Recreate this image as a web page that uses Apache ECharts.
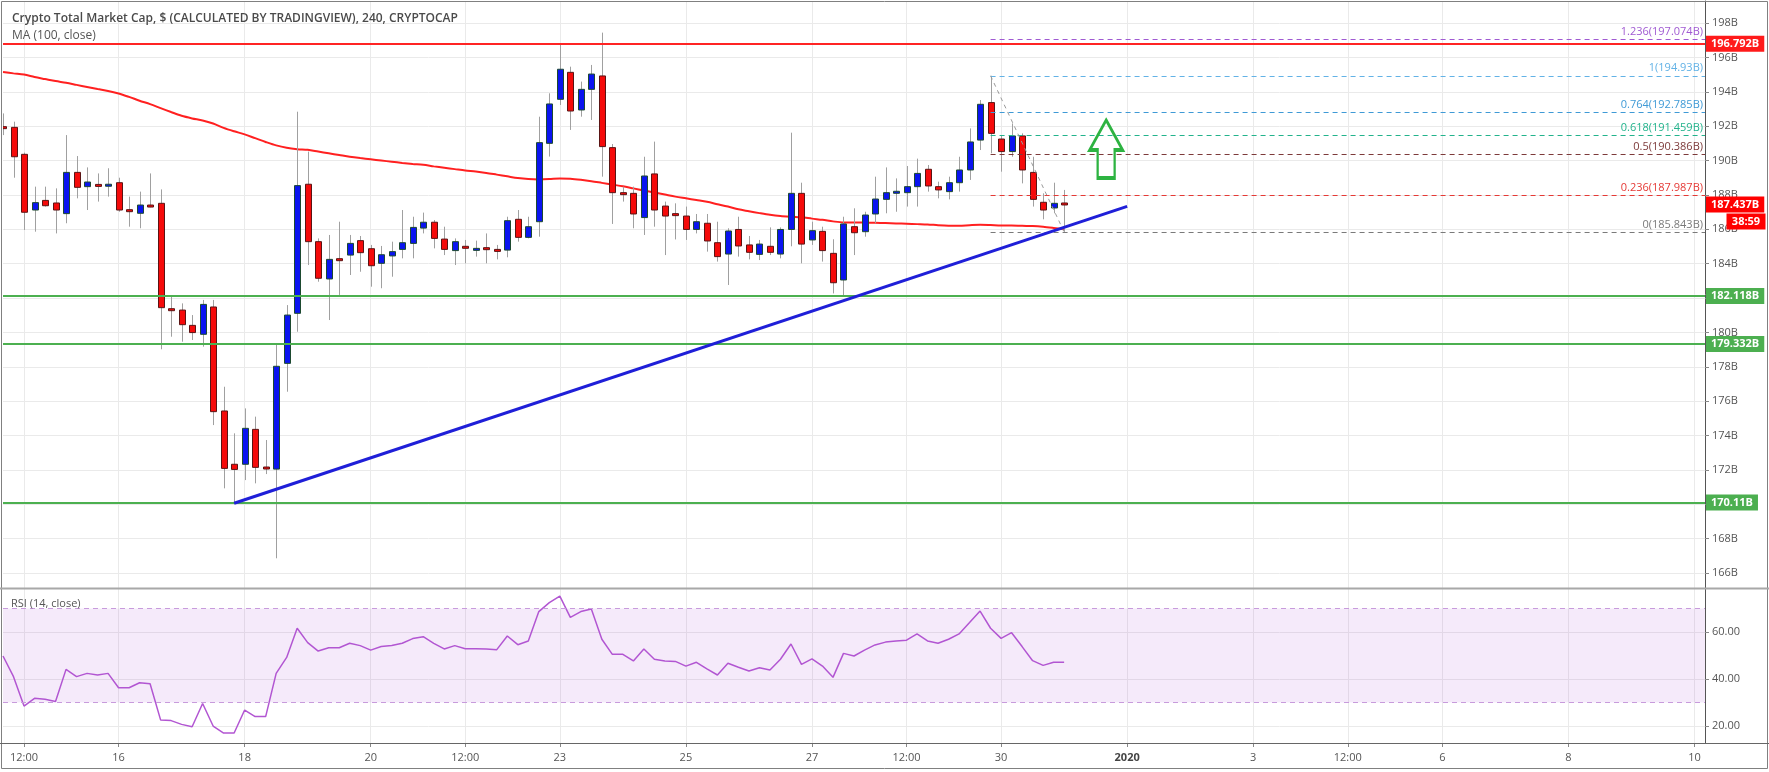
<!DOCTYPE html>
<html><head><meta charset="utf-8">
<script src="https://cdn.jsdelivr.net/npm/echarts@6/dist/echarts.min.js"></script>
<style>html,body{margin:0;padding:0;background:#fff;}#c{width:1769px;height:772px;}</style>
</head><body><div id="c"></div>
<script>
// ---------- data ----------
const slotStart = Date.UTC(2019, 11, 14, 4); // first 4h slot shown
const slotCount = 163;
const tickIndex = [2, 11, 23, 35, 44, 53, 65, 77, 86, 95, 107, 119, 128, 137, 149, 161];
const tickText = ['12:00','16','18','20','12:00','23','25','27','12:00','30','2020','3','12:00','6','8','10'];
const priceTicks = [166,168,170,172,174,176,178,180,182,184,186,188,190,192,194,196,198];
const rsiTicks = [20,40,60];

const opens = [191.97,191.93,190.36,187.12,187.68,187.53,186.91,189.31,188.48,188.61,
188.58,188.71,187.14,186.93,187.41,187.51,181.38,181.30,180.41,179.89,
181.48,175.43,172.33,172.33,174.36,172.17,172.05,178.20,181.11,188.62,
185.28,183.11,184.29,184.50,185.34,184.87,184.02,184.45,184.83,185.18,
186.07,186.41,185.43,184.76,185.01,184.85,184.93,184.83,184.79,186.58,
185.53,186.44,191.00,193.56,195.13,192.94,194.14,194.92,190.75,188.13,
188.09,186.68,189.22,187.35,186.91,186.77,185.99,186.35,185.22,184.56,
185.99,185.09,184.54,185.01,184.56,185.99,188.09,185.38,185.88,184.60,
183.05,186.15,185.86,186.89,187.74,188.17,188.13,188.48,189.49,188.48,
188.19,188.71,189.45,191.19,193.37,191.25,190.52,191.43,189.31,187.57,
187.24,187.53];
const closes = [191.95,190.22,186.99,187.55,187.37,187.12,189.31,188.44,188.75,188.54,
188.62,187.12,187.06,187.41,187.32,181.44,181.30,180.45,179.99,181.63,
175.39,172.09,172.03,174.42,172.15,172.13,178.03,181.01,188.54,185.28,
183.15,184.25,184.21,185.18,184.64,183.88,184.52,184.70,185.22,186.11,
186.41,185.47,184.83,185.28,184.93,184.89,184.85,184.76,186.50,185.53,
186.15,191.04,193.29,195.31,192.88,194.14,195.03,190.81,188.13,188.05,
186.89,189.10,187.12,186.77,186.83,185.99,186.44,185.32,184.41,185.90,
185.03,184.66,185.14,184.66,185.99,188.09,185.14,185.92,184.76,182.89,
186.31,185.80,186.83,187.76,188.13,188.21,188.48,189.25,188.52,188.29,
188.71,189.45,191.08,193.27,191.58,190.52,191.43,189.45,187.74,187.12,
187.51,187.44];
const highs = [192.74,192.26,190.46,188.48,188.48,188.38,191.48,190.26,189.60,189.25,
189.55,189.00,187.90,188.19,189.25,188.32,182.08,181.69,181.01,181.89,
181.89,176.84,174.13,175.58,175.10,173.74,179.37,181.59,192.84,190.52,
185.47,185.67,186.44,185.67,185.61,185.09,185.03,185.28,187.12,186.73,
186.97,186.54,186.15,185.47,185.38,185.34,185.76,185.09,186.73,187.12,
186.73,192.55,193.91,196.82,195.46,194.59,195.56,197.44,190.96,188.48,
188.48,190.22,191.10,187.61,187.51,187.32,186.89,186.89,186.44,186.06,
186.73,185.61,185.38,186.11,186.11,191.62,188.71,186.44,186.15,185.42,
186.73,187.22,187.02,189.06,189.60,188.96,189.68,190.11,189.74,188.77,
189.06,190.22,191.87,193.52,194.93,191.48,192.16,191.58,190.22,188.09,
188.71,188.29];
const lows = [191.48,189.00,185.96,185.86,187.32,185.76,186.35,187.80,187.12,187.61,
187.90,187.02,186.15,186.06,187.28,179.02,179.75,179.46,179.56,179.17,
174.61,170.93,170.06,171.41,171.22,171.76,166.86,176.55,180.04,183.92,
182.95,180.72,182.18,183.34,183.53,182.66,182.57,183.24,184.31,184.31,
185.76,184.89,184.50,183.92,184.02,184.41,184.02,184.25,184.37,185.28,
185.47,185.57,190.23,193.23,191.78,192.55,192.36,189.06,186.31,187.61,
186.06,185.67,186.15,184.50,185.41,185.38,185.76,184.70,184.12,182.76,
184.41,184.25,184.21,184.50,184.31,185.01,184.02,185.09,184.12,182.27,
182.08,184.50,185.57,186.35,186.93,187.02,187.32,187.32,188.19,187.80,
187.74,188.19,188.87,190.61,190.42,189.35,190.22,188.67,187.32,186.58,
186.93,185.85];
const ma100 = [195.15,195.07,195.00,194.86,194.74,194.62,194.52,194.40,194.28,194.16,
194.05,193.90,193.70,193.48,193.28,193.05,192.82,192.60,192.45,192.33,
192.15,191.90,191.70,191.52,191.30,191.08,190.88,190.74,190.66,190.62,
190.52,190.42,190.32,190.22,190.14,190.07,190.00,189.93,189.86,189.80,
189.75,189.66,189.58,189.50,189.42,189.36,189.28,189.18,189.08,188.98,
188.92,188.90,188.92,188.96,188.94,188.88,188.80,188.70,188.60,188.50,
188.38,188.26,188.14,188.02,187.90,187.80,187.70,187.60,187.46,187.32,
187.16,187.05,186.94,186.84,186.77,186.73,186.70,186.62,186.55,186.46,
186.40,186.40,186.39,186.38,186.36,186.34,186.32,186.30,186.28,186.24,
186.21,186.20,186.24,186.27,186.25,186.22,186.22,186.20,186.19,186.15,
186.08,186.00];
const rsi14 = [49.8,41.0,28.5,31.8,31.4,30.4,44.1,41.0,42.4,41.7,
42.4,36.3,36.3,38.4,38.0,22.6,22.3,20.7,19.7,29.6,
20.0,17.0,17.0,26.8,24.0,24.0,42.4,49.2,61.6,55.5,
51.9,53.3,53.3,55.2,54.2,52.3,53.8,54.3,55.2,57.2,
58.0,55.2,52.8,54.2,52.9,52.9,52.8,52.5,58.3,54.6,
56.2,68.7,72.5,75.3,66.2,68.7,69.8,56.9,50.5,50.5,
47.7,52.8,48.4,47.7,47.5,45.5,47.1,44.3,41.7,46.7,
45.0,43.4,44.8,43.8,48.4,54.9,46.2,48.6,45.5,40.7,
50.9,49.8,52.3,54.5,55.7,56.2,56.5,59.2,56.2,55.2,
56.9,59.2,64.0,68.9,61.6,57.3,59.7,53.8,47.8,45.8,
47.1,47.1];

// horizontal levels
const resistanceLevel = 196.792;
const supportLevels = [182.118, 179.332, 170.11];
const supportText = ['182.118B','179.332B','170.11B'];
// fibonacci levels
const fibRatio = ['1.236','1','0.764','0.618','0.5','0.236','0'];
const fibValue = [197.074,194.93,192.785,191.459,190.386,187.987,185.843];
const fibText = ['197.074B','194.93B','192.785B','191.459B','190.386B','187.987B','185.843B'];
const fibColor = ['#a05ad2','#62b2e6','#3f9ad6','#22b38c','#7d3a3a','#e53935','#7a7a7a'];
const fibStartIdx = 94, fibEndIdx = 101, fibLow = 185.843, fibHigh = 194.93;
// trend line
const trendFrom = [22, 170.06], trendTo = [107, 187.33];
const arrowAt = [105, 190.67];
const lastPrice = 187.437, lastPriceText = '187.437B', countdownText = '38:59';

// ---------- build ----------
const categories = [];
for (let k = 0; k < slotCount; k++) {
  categories.push(new Date(slotStart + k * 4 * 3600e3).toISOString().slice(0, 16));
}
const candleData = opens.map((o, i) => [i, o, closes[i], lows[i], highs[i]]);
const FONT = '"Open Sans", "Noto Sans", sans-serif';
const isTick = (i) => tickIndex.indexOf(i) >= 0;

function renderCandle(params, api) {
  const i = api.value(0), o = api.value(1), c = api.value(2), l = api.value(3), h = api.value(4);
  const po = api.coord([i, o]), pc = api.coord([i, c]), pl = api.coord([i, l]), ph = api.coord([i, h]);
  const bw = Math.round(api.size([1, 0])[0] * 0.6);
  const up = c >= o;
  const top = Math.min(po[1], pc[1]);
  let hgt = Math.abs(po[1] - pc[1]);
  if (hgt < 2) hgt = 2;
  const xc = Math.round(po[0]);
  return {
    type: 'group',
    children: [
      { type: 'line', shape: { x1: xc + 0.5, y1: ph[1], x2: xc + 0.5, y2: pl[1] },
        style: { stroke: '#a0a0a0', lineWidth: 1 } },
      { type: 'rect', shape: { x: xc - Math.floor(bw / 2) + 0.5, y: top, width: bw, height: hgt },
        style: { fill: up ? '#0a14f0' : '#f50a0a', stroke: up ? '#1d4a30' : '#5a1414', lineWidth: 1 } }
    ]
  };
}

const axisBox = (txt, bg) => ({
  show: true, position: 'end', distance: 1, formatter: txt,
  backgroundColor: bg, color: '#fff', fontSize: 11, fontWeight: 'bold', fontFamily: FONT,
  padding: [3, 5, 2, 5]
});

const levelLines = [];
levelLines.push({ yAxis: resistanceLevel, lineStyle: { color: '#ff2424', width: 2, type: 'solid' },
  label: axisBox(resistanceLevel + 'B', '#ff1a1a') });
supportLevels.forEach((v, k) => levelLines.push({
  yAxis: v, lineStyle: { color: '#4cb050', width: 2, type: 'solid' }, label: axisBox(supportText[k], '#4caf50') }));
fibValue.forEach((v, k) => levelLines.push([
  { coord: [fibStartIdx, v], lineStyle: { color: fibColor[k], width: 1, type: [5, 4] },
    label: { show: true, position: 'insideEndTop', distance: 2, formatter: fibRatio[k] + '(' + fibText[k] + ')',
      color: fibColor[k], fontSize: 11, fontFamily: FONT } },
  { coord: [slotCount - 1, v] }
]));
levelLines.push([
  { coord: [fibStartIdx, fibHigh], lineStyle: { color: '#9a9a9a', width: 1, type: [4, 4] }, label: { show: false } },
  { coord: [fibEndIdx, fibLow] }
]);
levelLines.push([
  { coord: trendFrom, lineStyle: { color: '#1f1fd8', width: 3, type: 'solid' }, label: { show: false } },
  { coord: trendTo }
]);
levelLines.push({ yAxis: lastPrice, lineStyle: { color: 'rgba(255,0,0,0)', width: 1, type: 'solid' },
  label: axisBox(lastPriceText, '#ff0000') });

const option = {
  animation: false,
  backgroundColor: '#ffffff',
  textStyle: { fontFamily: FONT },
  title: [
    { text: 'Crypto Total Market Cap, $ (CALCULATED BY TRADINGVIEW), 240, CRYPTOCAP', left: 12, top: 13, padding: 0,
      textStyle: { fontSize: 12, fontWeight: 600, color: '#4a4a4a', fontFamily: FONT } },
    { text: 'MA (100, close)', left: 12, top: 30, padding: 0,
      textStyle: { fontSize: 12, fontWeight: 'normal', color: '#555', fontFamily: FONT } },
    { text: 'RSI (14, close)', left: 11, top: 598, padding: 0,
      textStyle: { fontSize: 11, fontWeight: 'normal', color: '#555', fontFamily: FONT } }
  ],
  grid: [
    { left: 3, right: 64, top: 1, height: 587 },
    { left: 3, right: 64, top: 589, height: 154 }
  ],
  xAxis: [
    { type: 'category', gridIndex: 0, data: categories, boundaryGap: false,
      axisLine: { show: false }, axisTick: { show: false }, axisLabel: { show: false },
      splitLine: { show: true, interval: isTick, lineStyle: { color: '#eaeaea' } } },
    { type: 'category', gridIndex: 1, data: categories, boundaryGap: false,
      axisLine: { show: true, lineStyle: { color: '#666', width: 1 } },
      axisTick: { show: true, interval: isTick, length: 4, lineStyle: { color: '#888' } },
      axisLabel: { show: true, interval: isTick, margin: 9, fontSize: 11, color: '#555', fontFamily: FONT,
        formatter: (v, i) => { const t = tickText[tickIndex.indexOf(i)] || ''; return t === '2020' ? '{b|2020}' : t; },
        rich: { b: { fontWeight: 'bold', fontSize: 11, color: '#444', fontFamily: FONT } } },
      splitLine: { show: true, interval: isTick, lineStyle: { color: '#eaeaea' } } }
  ],
  yAxis: [
    { type: 'value', gridIndex: 0, position: 'right', min: 165.132, max: 199.28, scale: true,
      axisLine: { show: true, lineStyle: { color: '#555' } },
      axisTick: { show: true, length: 4, customValues: priceTicks, lineStyle: { color: '#888' } },
      axisLabel: { show: true, customValues: priceTicks, margin: 7, fontSize: 11, color: '#555', fontFamily: FONT,
        formatter: (v) => v + 'B' },
      splitLine: { show: true, lineStyle: { color: '#eaeaea' } } },
    { type: 'value', gridIndex: 1, position: 'right', min: 12.77, max: 78.3,
      axisLine: { show: true, lineStyle: { color: '#555' } },
      axisTick: { show: true, length: 4, customValues: rsiTicks, lineStyle: { color: '#888' } },
      axisLabel: { show: true, customValues: rsiTicks, margin: 7, fontSize: 11, color: '#555', fontFamily: FONT,
        formatter: (v) => v.toFixed(2) },
      splitLine: { show: true, lineStyle: { color: '#eaeaea' } } }
  ],
  series: [
    { name: 'MA', type: 'line', xAxisIndex: 0, yAxisIndex: 0, data: ma100, showSymbol: false, smooth: 0.3,
      clip: false, z: 3, lineStyle: { color: '#ff2020', width: 2 },
      markLine: { silent: true, symbol: ['none', 'none'], animation: false, data: levelLines },
      markPoint: { silent: true, animation: false, data: [
        { coord: arrowAt, symbol: 'path://M16.5,0 L33,30 L25,30 L25,58 L8,58 L8,30 L0,30 Z',
          symbolSize: [33, 58], itemStyle: { color: 'rgba(0,0,0,0)', borderColor: '#2db341', borderWidth: 3 },
          label: { show: false } },
        { coord: [slotCount - 1, lastPrice], symbol: 'rect', symbolSize: [39, 16], symbolOffset: [41, 17],
          itemStyle: { color: '#ff0000' },
          label: { show: true, position: 'inside', formatter: countdownText, color: '#fff', fontSize: 11,
            fontWeight: 'bold', fontFamily: FONT } }
      ] } },
    { name: 'candles', type: 'custom', xAxisIndex: 0, yAxisIndex: 0, data: candleData, clip: true, z: 4,
      renderItem: renderCandle, encode: { x: 0, y: [1, 2, 3, 4] } },
    { name: 'RSI', type: 'line', xAxisIndex: 1, yAxisIndex: 1, data: rsi14, showSymbol: false, z: 3,
      lineStyle: { color: '#b256d2', width: 1.5 },
      markArea: { silent: true, itemStyle: { color: 'rgba(175, 90, 215, 0.13)' },
        data: [[{ yAxis: 30 }, { yAxis: 70 }]] },
      markLine: { silent: true, symbol: ['none', 'none'], label: { show: false },
        lineStyle: { color: '#c89bdc', type: [5, 4], width: 1 },
        data: [{ yAxis: 70 }, { yAxis: 30 }] } }
  ],
  graphic: [
    { type: 'rect', silent: true, z: 100, shape: { x: 1.5, y: 1.5, width: 1766, height: 767 },
      style: { fill: 'none', stroke: '#808080', lineWidth: 1 } },
    { type: 'line', silent: true, z: 100, shape: { x1: 0, y1: 588.5, x2: 1769, y2: 588.5 },
      style: { stroke: '#a8a8a8', lineWidth: 2 } },
    { type: 'line', silent: true, z: 100, shape: { x1: 0, y1: 743.5, x2: 1769, y2: 743.5 },
      style: { stroke: '#666', lineWidth: 1 } }
  ]
};
const chart = echarts.init(document.getElementById('c'), null, { renderer: 'canvas' });
chart.setOption(option);
</script></body></html>
